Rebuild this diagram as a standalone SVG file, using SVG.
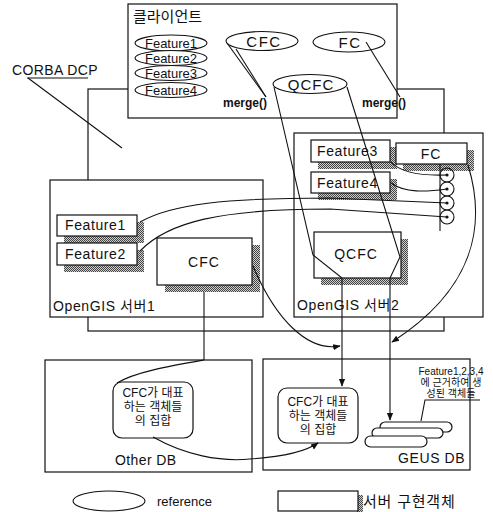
<svg xmlns="http://www.w3.org/2000/svg" width="493" height="512" viewBox="0 0 493 512">
<defs>
<pattern id="dots" width="2" height="2" patternUnits="userSpaceOnUse"><rect width="2" height="2" fill="#cfcfcf"/><rect width="1" height="1" fill="#444"/><rect x="1" y="1" width="1" height="1" fill="#444"/></pattern>
<marker id="arr" viewBox="0 0 10 10" refX="9" refY="5" markerWidth="7" markerHeight="7" orient="auto-start-reverse"><path d="M0,1 L10,5 L0,9 Z" fill="#111"/></marker>
<style>
.box{fill:#fff;stroke:#111;stroke-width:1.2}
.sh{fill:url(#dots);stroke:none}
.ln{fill:none;stroke:#111;stroke-width:1.1}
.t{font-family:"Liberation Sans","Noto Sans CJK KR",sans-serif;fill:#111}
.f{font-size:14px;letter-spacing:0.6px}
.fe{font-size:13px}
.ko{font-size:12px}
.mg{font-size:12px;font-weight:bold}
.ell{fill:#fff;stroke:#111;stroke-width:1.1}
</style>
</defs>
<rect width="493" height="512" fill="#fff"/>

<g id="corba-frame">
<rect x="88" y="89" width="356" height="242" fill="none" stroke="#111" stroke-width="1.2"/>
</g>

<g id="client">
<rect class="box" x="128" y="4" width="269" height="114"/>
<text class="t" x="133" y="22" font-size="15">클라이언트</text>
<ellipse class="ell" cx="171" cy="43" rx="36" ry="8"/>
<text class="t fe" x="171" y="48" text-anchor="middle">Feature1</text>
<ellipse class="ell" cx="171" cy="58" rx="36" ry="7.5"/>
<text class="t fe" x="171" y="63" text-anchor="middle">Feature2</text>
<ellipse class="ell" cx="171" cy="73" rx="36" ry="7.5"/>
<text class="t fe" x="171" y="78" text-anchor="middle">Feature3</text>
<ellipse class="ell" cx="171" cy="90" rx="36" ry="7.5"/>
<text class="t fe" x="171" y="95" text-anchor="middle">Feature4</text>
</g>

<g id="cfc-ref">
<ellipse class="ell" cx="262" cy="41" rx="36" ry="9.5"/>
<text class="t" x="264" y="47" font-size="15" letter-spacing="1.5" text-anchor="middle">CFC</text>
<text class="t mg" x="223" y="107">merge()</text>
</g>

<g id="fc-ref">
<ellipse class="ell" cx="349" cy="42" rx="36" ry="10"/>
<text class="t" x="350" y="48" font-size="15" letter-spacing="1.5" text-anchor="middle">FC</text>
<text class="t mg" x="362" y="107">merge()</text>
</g>

<g id="corba-label">
<text class="t" x="12" y="75" font-size="14" letter-spacing="0.4">CORBA DCP</text>
<line class="ln" x1="27" y1="78" x2="88" y2="78"/>
</g>

<g id="server1">
<rect class="box" x="50" y="180" width="213" height="137"/>
<text class="t" x="53" y="311" font-size="14" letter-spacing="0.6">OpenGIS 서버1</text>
</g>

<g id="server2">
<rect class="box" x="294" y="133" width="189" height="184"/>
<text class="t" x="297" y="310" font-size="14" letter-spacing="0.6">OpenGIS 서버2</text>
</g>

<g id="s1-feature1">
<rect class="sh" x="64" y="222" width="80" height="21"/>
<rect class="box" x="57" y="215" width="80" height="21"/>
<text class="t f" x="65" y="230">Feature1</text>
</g>
<g id="s1-feature2">
<rect class="sh" x="64" y="250" width="80" height="22"/>
<rect class="box" x="57" y="243" width="80" height="22"/>
<text class="t f" x="65" y="259">Feature2</text>
</g>
<g id="s1-cfc">
<rect class="sh" x="165" y="245" width="95" height="47"/>
<rect class="box" x="157" y="238" width="95" height="47"/>
<text class="t" x="204" y="267" font-size="14" letter-spacing="1" text-anchor="middle">CFC</text>
</g>

<g id="s2-feature3">
<rect class="sh" x="318" y="147" width="79" height="22"/>
<rect class="box" x="311" y="140" width="79" height="22"/>
<text class="t f" x="317" y="156">Feature3</text>
</g>
<g id="s2-feature4">
<rect class="sh" x="318" y="179" width="79" height="21"/>
<rect class="box" x="311" y="172" width="79" height="21"/>
<text class="t f" x="317" y="188">Feature4</text>
</g>
<g id="s2-fc">
<rect class="sh" x="403" y="150" width="71" height="21"/>
<rect class="box" x="396" y="143" width="71" height="21"/>
<text class="t" x="431" y="159" font-size="14" letter-spacing="1" text-anchor="middle">FC</text>
</g>
<g id="s2-qcfc">
<rect class="sh" x="321" y="239" width="87" height="46"/>
<rect class="box" x="314" y="232" width="87" height="46"/>
<text class="t" x="356" y="259" font-size="14" letter-spacing="1" text-anchor="middle">QCFC</text>
</g>

<g id="fc-ports">
<line class="ln" x1="440" y1="164" x2="440" y2="231"/>
<circle class="ln" cx="447" cy="175" r="7"/>
<circle class="ln" cx="447" cy="189" r="7"/>
<circle class="ln" cx="447" cy="203" r="7"/>
<circle class="ln" cx="447" cy="217" r="7"/>
<circle cx="447" cy="175" r="1.6" fill="#111"/>
<circle cx="447" cy="189" r="1.6" fill="#111"/>
<circle cx="447" cy="203" r="1.6" fill="#111"/>
<circle cx="447" cy="217" r="1.6" fill="#111"/>
</g>

<g id="other-db">
<rect class="box" x="45" y="360" width="207" height="112"/>
<text class="t" x="115" y="465" font-size="14" letter-spacing="0.4">Other DB</text>
<rect class="box" x="113" y="382" width="80" height="56" rx="9"/>
<text class="t ko" x="153" y="397" text-anchor="middle">CFC가 대표</text>
<text class="t ko" x="153" y="411" text-anchor="middle">하는 객체들</text>
<text class="t ko" x="153" y="425" text-anchor="middle">의 집합</text>
</g>

<g id="geus-db">
<rect class="box" x="263" y="359" width="207" height="111"/>
<text class="t" x="398" y="463" font-size="14" letter-spacing="0.6">GEUS DB</text>
<rect class="box" x="278" y="388" width="80" height="55" rx="9"/>
<text class="t ko" x="318" y="406" text-anchor="middle">CFC가 대표</text>
<text class="t ko" x="318" y="420" text-anchor="middle">하는 객체들</text>
<text class="t ko" x="318" y="434" text-anchor="middle">의 집합</text>
<text class="t" x="451" y="375" font-size="10" text-anchor="middle">Feature1,2,3,4</text>
<text class="t" x="451" y="386" font-size="10" text-anchor="middle">에 근거하여 생</text>
<text class="t" x="451" y="397" font-size="10" text-anchor="middle">성된 객체들</text>
<rect class="box" x="380" y="422" width="72" height="10" rx="5"/>
<rect class="box" x="372" y="428" width="71" height="10" rx="5"/>
<rect class="box" x="365" y="436" width="62" height="11" rx="5.5"/>
</g>

<g id="legend">
<ellipse class="ell" cx="109" cy="501" rx="36" ry="10"/>
<text class="t" x="157" y="506" font-size="13">reference</text>
<rect class="sh" x="357" y="495" width="6" height="17"/>
<rect class="box" x="278" y="491" width="80" height="20"/>
<text class="t" x="363" y="507" font-size="15" letter-spacing="0.8">서버 구현객체</text>
</g>

<g id="connectors">
<line class="ln" x1="28" y1="78" x2="122" y2="148"/>
<line class="ln" x1="227" y1="43" x2="266" y2="97"/>
<line class="ln" x1="236" y1="49" x2="266" y2="97"/>
<line class="ln" x1="366" y1="42" x2="400" y2="97"/>
<ellipse class="ell" cx="310" cy="84" rx="37" ry="9.5"/>
<text class="t" x="311" y="90" font-size="15" letter-spacing="1" text-anchor="middle">QCFC</text>
<polyline class="ln" points="274,87 313,255 342,278 342,386" marker-end="url(#arr)"/>
<polyline class="ln" points="347,87 400,257 390,278 390,420" marker-end="url(#arr)"/>
<path class="ln" d="M391,162 C400,172 418,176 447,175"/>
<path class="ln" d="M391,183 C405,193 425,192 447,189"/>
<path class="ln" d="M140,222 C172,204 225,198 330,198 L447,203"/>
<path class="ln" d="M140,251 C168,222 220,209 330,209 L447,217"/>
<path class="ln" d="M468,165 C488,230 470,292 392,342" marker-end="url(#arr)"/>
<path class="ln" d="M253,266 C276,320 308,352 340,346" marker-end="url(#arr)"/>
<line class="ln" x1="204" y1="292" x2="204" y2="360"/>
<path class="ln" d="M204,360 C170,366 135,372 117,383"/>
<path class="ln" d="M153,437 C185,455 220,462 250,459 C280,457 305,452 318,443" marker-end="url(#arr)"/>
<polyline class="ln" points="421,421 425,400 480,400"/>
</g>
</svg>
